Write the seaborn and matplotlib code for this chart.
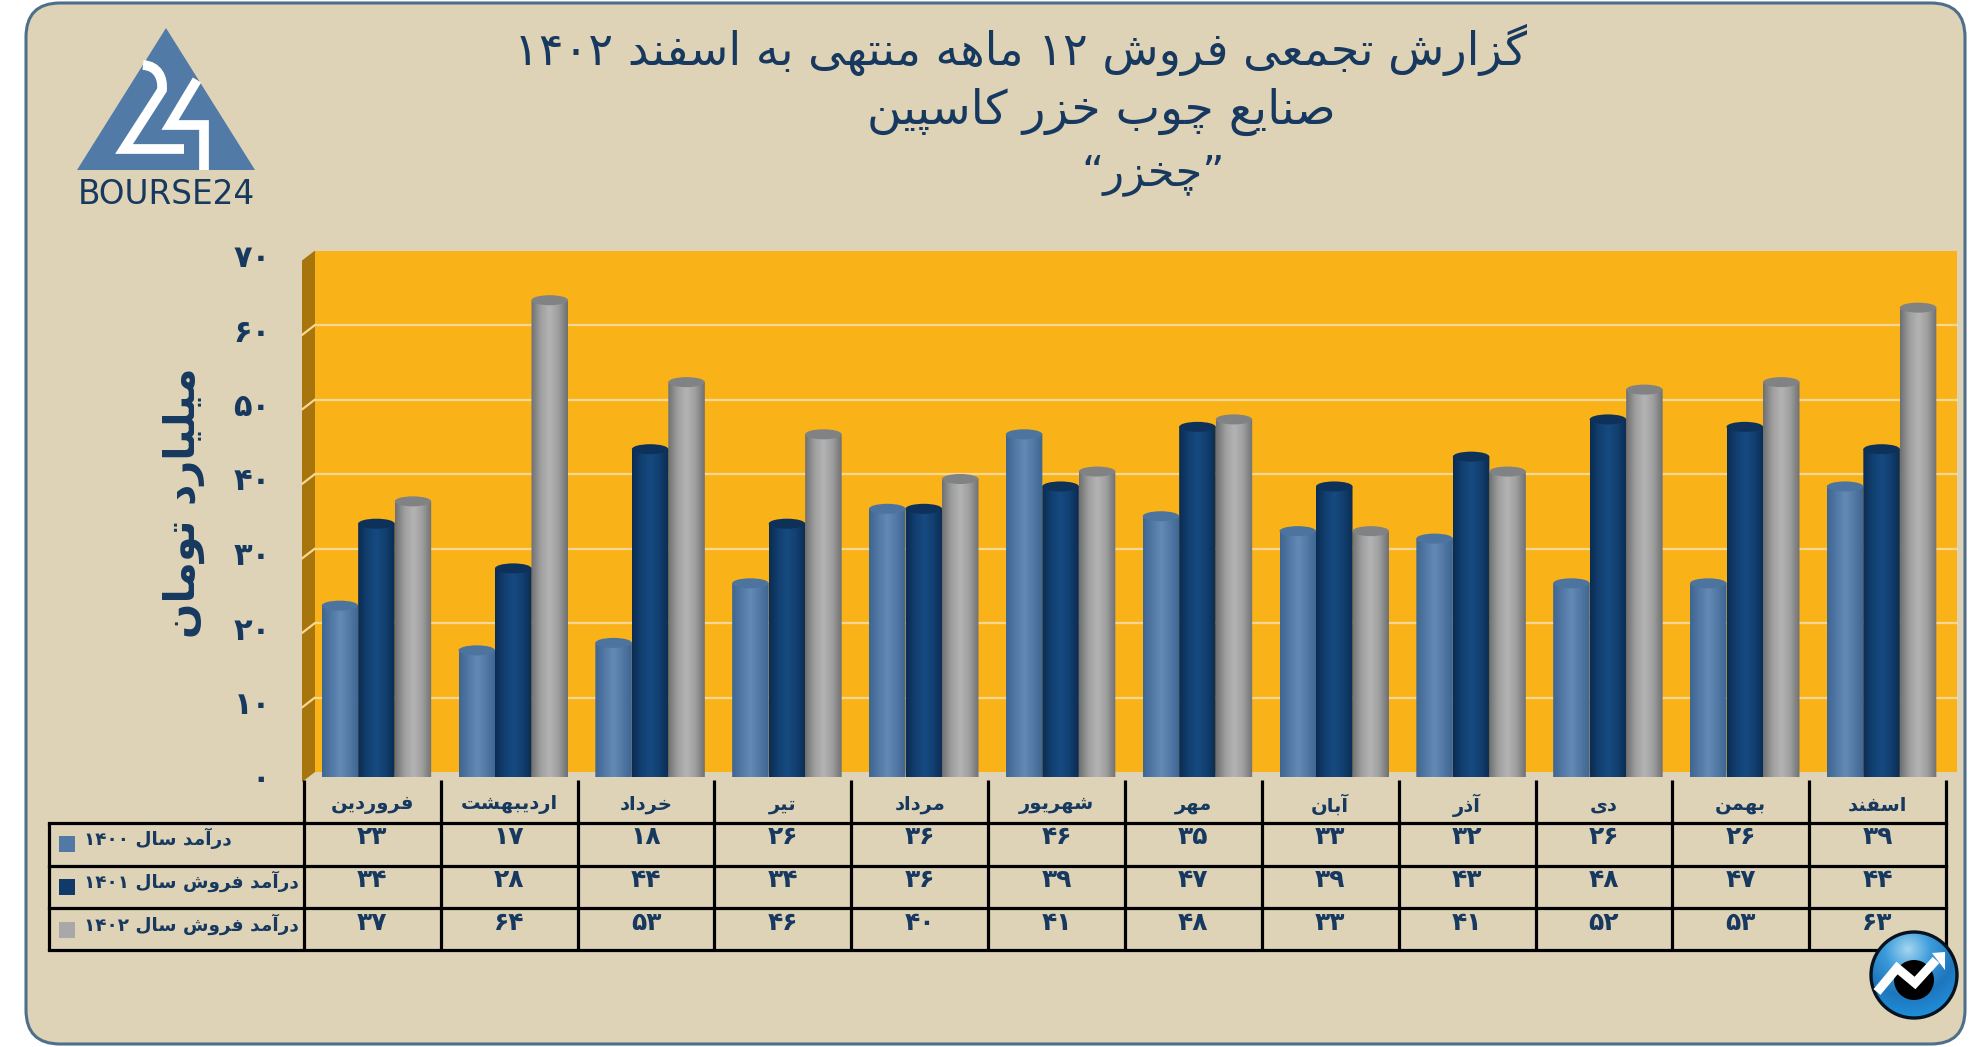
import matplotlib
matplotlib.use("Agg")
import matplotlib.pyplot as plt
import matplotlib.transforms as mtrans
from matplotlib.patches import FancyBboxPatch, Polygon, Circle, PathPatch, Rectangle, Ellipse
from matplotlib.path import Path
from matplotlib.colors import LinearSegmentedColormap
import numpy as np
import pandas as pd
import seaborn as sns

# ---------- data ----------
months = ["فروردین", "اردیبهشت", "خرداد", "تیر", "مرداد", "شهریور",
          "مهر", "آبان", "آذر", "دی", "بهمن", "اسفند"]
series_names = ["درآمد سال ۱۴۰۰", "درآمد فروش سال ۱۴۰۱", "درآمد فروش سال ۱۴۰۲"]
values_1400 = [23, 17, 18, 26, 36, 46, 35, 33, 32, 26, 26, 39]
values_1401 = [34, 28, 44, 34, 36, 39, 47, 39, 43, 48, 47, 44]
values_1402 = [37, 64, 53, 46, 40, 41, 48, 33, 41, 52, 53, 63]
title_lines = ["گزارش تجمعی فروش ۱۲ ماهه منتهی به اسفند ۱۴۰۲",
               "صنایع چوب خزر کاسپین", "\u201Dچخزر\u201C"]
y_label = "میلیارد تومان"
y_ticks = [0, 10, 20, 30, 40, 50, 60, 70]

# ---------- colours ----------
PANEL = "#DED3B7"
EDGE = "#4D6F8A"
INK = "#17395F"
WALL = "#FAB219"
SIDE = "#A8750C"
GRID = "#F7D796"
KEY = ["#5279A6", "#0F3A69", "#A8A8A8"]
GRAD = [["#3F6590", "#5279A6", "#6389B4", "#5279A6", "#3F6590"],
        ["#0B2C52", "#113F70", "#164A80", "#113F70", "#0B2C52"],
        ["#6F7072", "#9E9E9E", "#B4B4B4", "#9E9E9E", "#6F7072"]]
TOP = ["#4C749F", "#0D3159", "#808284"]


# ---------- Persian shaping (matplotlib has no Arabic layout engine) ----------
FORMS = {  # isolated, final, initial, medial
    "ا": "\uFE8D\uFE8E", "آ": "\uFE81\uFE82", "د": "\uFEA9\uFEAA", "ذ": "\uFEAB\uFEAC",
    "ر": "\uFEAD\uFEAE", "ز": "\uFEAF\uFEB0", "و": "\uFEED\uFEEE",
    "ب": "\uFE8F\uFE90\uFE91\uFE92", "پ": "\uFB56\uFB57\uFB58\uFB59",
    "ت": "\uFE95\uFE96\uFE97\uFE98", "ج": "\uFE9D\uFE9E\uFE9F\uFEA0",
    "چ": "\uFB7A\uFB7B\uFB7C\uFB7D", "خ": "\uFEA5\uFEA6\uFEA7\uFEA8",
    "س": "\uFEB1\uFEB2\uFEB3\uFEB4", "ش": "\uFEB5\uFEB6\uFEB7\uFEB8",
    "ص": "\uFEB9\uFEBA\uFEBB\uFEBC", "ع": "\uFEC9\uFECA\uFECB\uFECC",
    "ف": "\uFED1\uFED2\uFED3\uFED4", "ک": "\uFB8E\uFB8F\uFB90\uFB91",
    "گ": "\uFB92\uFB93\uFB94\uFB95", "ل": "\uFEDD\uFEDE\uFEDF\uFEE0",
    "م": "\uFEE1\uFEE2\uFEE3\uFEE4", "ن": "\uFEE5\uFEE6\uFEE7\uFEE8",
    "ه": "\uFEE9\uFEEA\uFEEB\uFEEC", "ی": "\uFBFC\uFBFD\uFBFE\uFBFF",
}


def shape(text):
    out = []
    for i, ch in enumerate(text):
        if ch not in FORMS:
            out.append(ch)
            continue
        f = FORMS[ch]
        prev = text[i - 1] if i else ""
        nxt = text[i + 1] if i + 1 < len(text) else ""
        joins_prev = prev in FORMS and len(FORMS[prev]) == 4
        joins_next = nxt in FORMS and len(f) == 4
        if joins_prev and joins_next:
            out.append(f[3])
        elif joins_next:
            out.append(f[2])
        elif joins_prev:
            out.append(f[1])
        else:
            out.append(f[0])
    # visual order: reverse everything, then restore digit runs
    vis = "".join(out)[::-1]
    res, run = [], []
    for ch in vis:
        if "۰" <= ch <= "۹":
            run.append(ch)
        else:
            res.extend(run[::-1])
            run = []
            res.append(ch)
    res.extend(run[::-1])
    return "".join(res)


def fa_digits(n):
    return "".join("۰۱۲۳۴۵۶۷۸۹"[int(c)] for c in str(n))


# ---------- layout helpers ----------
W, H = 1986, 1047
sns.set_theme(style="white")
plt.rcParams["font.family"] = ["DejaVu Sans"]
fig = plt.figure(figsize=(W / 100, H / 100), dpi=100, facecolor="white")


def axes_px(x0, y0, x1, y1, **kw):
    return fig.add_axes([x0 / W, 1 - y1 / H, (x1 - x0) / W, (y1 - y0) / H], **kw)


# background overlay in pixel coordinates
bg = axes_px(0, 0, W, H, zorder=0)
bg.set_xlim(0, W)
bg.set_ylim(H, 0)
bg.axis("off")
bg.add_patch(FancyBboxPatch((26, 3), 1939, 1041, boxstyle="round,pad=0,rounding_size=34",
                            fc=PANEL, ec=EDGE, lw=2.2))

# logo
bg.add_patch(Polygon([(166, 28), (77, 170), (255, 170)], fc="#527AA7", ec="none"))
two = Path([(143, 65), (158, 66), (163, 78), (162, 90), (124, 149), (184, 149)],
           [Path.MOVETO, Path.CURVE4, Path.CURVE4, Path.CURVE4, Path.LINETO, Path.LINETO])
bg.add_patch(PathPatch(two, fc="none", ec="white", lw=7, capstyle="butt", joinstyle="miter"))
bg.plot([197, 170, 204, 204], [80, 125, 125, 170], color="white", lw=7,
        solid_joinstyle="miter", solid_capstyle="butt")
bg.text(166, 194, "BOURSE24", color=INK, fontsize=23.5, ha="center", va="center",
        family="DejaVu Sans")

# titles
for txt, xc, yc, fs in zip(title_lines, [1021, 1101, 1153], [50, 112, 175], [33.2, 34, 31]):
    bg.text(xc, yc, shape(txt), color=INK, fontsize=fs, ha="center", va="center")

# y axis title
bg.text(184, 503, shape(y_label), color=INK, fontsize=30, fontweight="bold", rotation=90,
        ha="center", va="center")

# ---------- main chart ----------
ax = axes_px(308, 255.5, 1950, 777, zorder=2)
ax.patch.set_alpha(0)
for s in ax.spines.values():
    s.set_visible(False)

df = pd.DataFrame({
    "month": months * 3,
    "series": np.repeat(series_names, len(months)),
    "value": values_1400 + values_1401 + values_1402,
})
sns.barplot(data=df, x="month", y="value", hue="series", order=months, hue_order=series_names,
            palette=KEY, width=0.8, gap=0, dodge=True, legend=False, ax=ax, saturation=1)
ax.set_xlim(-0.5, 11.5)
ax.set_ylim(0, 70)
ax.set_xlabel("")
ax.set_ylabel("")
ax.set_xticks([])
ax.set_yticks(y_ticks)
ax.set_yticklabels([fa_digits(t) for t in y_ticks], fontsize=22, fontweight="bold", color=INK)
ax.tick_params(axis="y", length=0, pad=27)

# 3D wall, expressed in data space with pixel offsets
back = ax.transData + mtrans.Affine2D().translate(7, 5)
side = ax.transData + mtrans.Affine2D().translate(-6, -5)
xl, xr = ax.get_xlim()
ax.add_patch(Rectangle((xl, 0), xr - xl, 70, transform=back, fc=WALL, ec="none", zorder=0, clip_on=False))
xb = back.transform((xl, 0))[0]
xs = side.transform((xl, 0))[0]
yb = [back.transform((xl, v))[1] for v in (0, 70)]
ys = [side.transform((xl, v))[1] for v in (0, 70)]
fig.add_artist(Polygon([(xs, ys[0]), (xb, yb[0]), (xb, yb[1]), (xs, ys[1])],
                       transform=None, fc=SIDE, ec="none", zorder=1))
for t in y_ticks[1:-1]:
    ax.plot([xl, xr], [t, t], transform=back, color=GRID, lw=1.6, zorder=0.5, clip_on=False)
    xa, ya = back.transform((xl, t))
    xc, yc = side.transform((xl, t))
    fig.add_artist(plt.Line2D([xc, xa], [yc, ya], transform=None, color=GRID, lw=1.6, zorder=1.5))

# turn each seaborn bar into a cylinder
ell_h = 5 / (521.5 / 70)
k = 0.5523
for order_i in [0, 2, 1]:
    cont = ax.containers[order_i]
    cmap = LinearSegmentedColormap.from_list("c", GRAD[order_i])
    for bar in cont:
        x0, w, h = bar.get_x(), bar.get_width(), bar.get_height()
        bar.set_visible(False)
        x1 = x0 + w
        xm = x0 + w / 2
        verts = [(x0, h), (x0, 0),
                 (x0, -k * ell_h), (xm - k * w / 2, -ell_h), (xm, -ell_h),
                 (xm + k * w / 2, -ell_h), (x1, -k * ell_h), (x1, 0),
                 (x1, h), (x0, h)]
        codes = [Path.MOVETO, Path.LINETO, Path.CURVE4, Path.CURVE4, Path.CURVE4,
                 Path.CURVE4, Path.CURVE4, Path.CURVE4, Path.LINETO, Path.CLOSEPOLY]
        body = PathPatch(Path(verts, codes), transform=ax.transData, fc="none", ec="none")
        ax.add_patch(body)
        im = ax.imshow(np.linspace(0, 1, 64)[None, :], extent=(x0, x1, -ell_h, h), cmap=cmap,
                       aspect="auto", zorder=3 + 0.1 * (order_i == 1), interpolation="bilinear",
                       origin="lower")
        im.set_clip_path(body)
        top = Ellipse((xm, h), w, 2 * ell_h, fc=TOP[order_i], ec="none",
                      zorder=3.2 + 0.1 * (order_i == 1), clip_on=False)
        ax.add_patch(top)
ax.set_xlim(xl, xr)
ax.set_ylim(0, 70)

# ---------- data table ----------
row_px = [780, 823, 866, 908, 950]
tb = axes_px(304, 780, 1946, 950, zorder=3)
tb.set_xlim(-0.5, 11.5)
tb.set_ylim(3, -1)
tb.patch.set_alpha(0)
tb.axis("off")
tbt = mtrans.blended_transform_factory(tb.transData, bg.transData)
LW = 2.3
for p in row_px[1:]:
    bg.plot([49, 1946], [p, p], color="black", lw=LW, solid_capstyle="projecting", zorder=5)
bg.plot([49, 49], [823, 950], color="black", lw=LW, zorder=5)
for i in range(13):
    tb.plot([i - 0.5, i - 0.5], [780, 950], transform=tbt, color="black", lw=LW, clip_on=False,
            solid_capstyle="butt")
for i, m in enumerate(months):
    tb.text(i, 805, shape(m), transform=tbt, ha="center", va="center", fontsize=14,
            fontweight="bold", color=INK)
rows = [values_1400, values_1401, values_1402]
row_y = [837, 880, 923]
for vals, yy in zip(rows, row_y):
    for i, v in enumerate(vals):
        tb.text(i, yy, fa_digits(v), transform=tbt, ha="center", va="center", fontsize=18,
                fontweight="bold", color=INK)
for j, (name, yy) in enumerate(zip(series_names, row_y)):
    bg.add_patch(Rectangle((59, yy - 1), 16, 16, fc=KEY[j], ec="none"))
    bg.text(84, yy + 1, shape(name), ha="left", va="center", fontsize=13.3, fontweight="bold",
            color=INK, zorder=6)

# ---------- badge ----------
bd = axes_px(1866, 927, 1962, 1023, zorder=4)
bd.set_xlim(-48, 48)
bd.set_ylim(48, -48)
bd.axis("off")
yy, xx = np.mgrid[-48:48:200j, -48:48:200j]
rr = np.hypot(xx + 6, yy + 26) / 70
cm = LinearSegmentedColormap.from_list("b", ["#A4D6F0", "#3B9BDA", "#1F76BC", "#1E90DC"])
im = bd.imshow(rr, extent=(-48, 48, 48, -48), cmap=cm, vmin=0, vmax=1, aspect="auto")
clip = Circle((0, 0), 43, fc="none", ec="#06121E", lw=2.4)
bd.add_patch(clip)
im.set_clip_path(clip)
bd.add_patch(Circle((0, 5), 20, fc="black", ec="none"))
bd.plot([-37, -17, 1, 22], [17, -7, 8, -15], color="white", lw=6.5, solid_joinstyle="miter",
        solid_capstyle="butt")
bd.add_patch(Polygon([(31, -23), (18, -22), (31, -5)], fc="white", ec="none"))

fig.savefig("out.png", dpi=100, facecolor="white")
